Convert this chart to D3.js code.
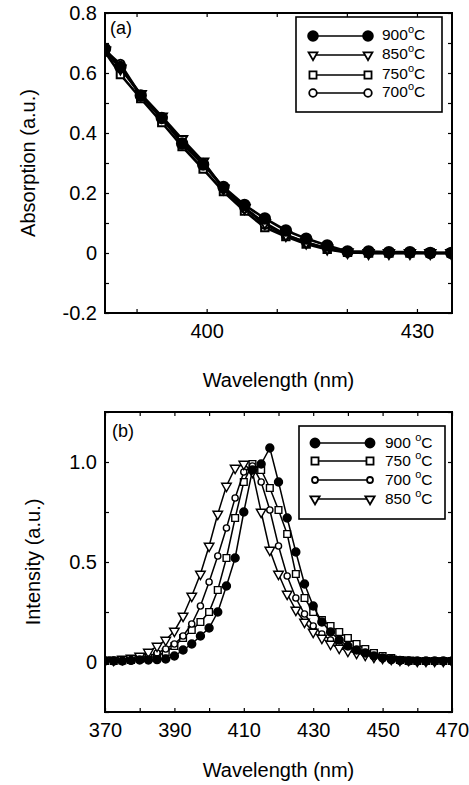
<!DOCTYPE html>
<html>
<head>
<meta charset="utf-8">
<script src="https://cdn.jsdelivr.net/npm/d3@7"></script>
<style>
  body { margin: 0; background: #fff; }
  svg text { font-family: "Liberation Sans", Arial, sans-serif; fill: #000; }
</style>
</head>
<body>
<svg id="chart" width="469" height="785"></svg>
<script>
// ---- panel (a): absorption ----
const absWave = [385.5, 387.7, 390.6, 393.6, 396.5, 399.5, 402.4, 405.4, 408.3, 411.3, 414.2, 417.2, 420.1, 423.1, 426.0, 429.0, 431.9, 434.9];
const abs900 = [0.680, 0.620, 0.525, 0.450, 0.365, 0.295, 0.220, 0.160, 0.115, 0.075, 0.048, 0.025, 0.005, 0.005, 0.003, 0.003, 0.000, 0.000];
const abs850 = [0.675, 0.615, 0.530, 0.455, 0.380, 0.305, 0.215, 0.150, 0.100, 0.060, 0.035, 0.015, 0.003, 0.000, 0.000, 0.000, 0.000, 0.000];
const abs750 = [0.670, 0.595, 0.515, 0.435, 0.355, 0.280, 0.205, 0.140, 0.085, 0.055, 0.030, 0.012, 0.002, 0.000, 0.000, 0.000, 0.000, 0.000];
const abs700 = [0.675, 0.630, 0.525, 0.450, 0.370, 0.300, 0.215, 0.150, 0.095, 0.060, 0.035, 0.015, 0.003, 0.000, 0.000, 0.000, 0.000, 0.000];
const absXTicks = [390, 400, 410, 420, 430];
const absXLabels = ["", "400", "", "", "430"];
const absYTicks = [-0.2, -0.1, 0, 0.1, 0.2, 0.3, 0.4, 0.5, 0.6, 0.7, 0.8];
const absYLabels = ["-0.2", "", "0", "", "0.2", "", "0.4", "", "0.6", "", "0.8"];
const absLegend = ["900", "850", "750", "700"];

// ---- panel (b): photoluminescence ----
const plWave = [370, 372.5, 375, 377.5, 380, 382.5, 385, 387.5, 390, 392.5, 395, 397.5, 400, 402.5, 405, 407.5, 410, 412.5, 415, 417.5,
  420, 422.5, 425, 427.5, 430, 432.5, 435, 437.5, 440, 442.5, 445, 447.5, 450, 452.5, 455, 457.5, 460, 462.5, 465, 467.5, 470];
const pl900 = [0.005, 0.005, 0.005, 0.008, 0.01, 0.01, 0.012, 0.015, 0.03, 0.06, 0.09, 0.13, 0.17, 0.25, 0.38, 0.52, 0.75, 0.96, 0.99, 1.07,
  0.90, 0.72, 0.55, 0.39, 0.28, 0.2, 0.15, 0.11, 0.08, 0.06, 0.045, 0.03, 0.02, 0.012, 0.008, 0.005, 0.005, 0.005, 0.005, 0.005, 0.005];
const pl750 = [0.005, 0.005, 0.008, 0.01, 0.015, 0.02, 0.03, 0.05, 0.08, 0.12, 0.16, 0.2, 0.25, 0.36, 0.52, 0.72, 0.90, 0.99, 0.96, 0.87,
  0.76, 0.64, 0.44, 0.32, 0.25, 0.21, 0.18, 0.15, 0.12, 0.09, 0.065, 0.045, 0.03, 0.02, 0.01, 0.005, 0.005, 0.005, 0.005, 0.005, 0.005];
const pl700 = [0.005, 0.008, 0.01, 0.015, 0.02, 0.03, 0.045, 0.065, 0.09, 0.13, 0.19, 0.28, 0.40, 0.53, 0.67, 0.82, 0.95, 0.98, 0.90, 0.76,
  0.58, 0.43, 0.32, 0.24, 0.18, 0.14, 0.11, 0.085, 0.065, 0.05, 0.04, 0.03, 0.02, 0.015, 0.01, 0.008, 0.005, 0.005, 0.005, 0.005, 0.005];
const pl850 = [0.01, 0.01, 0.015, 0.02, 0.03, 0.05, 0.08, 0.11, 0.155, 0.23, 0.33, 0.44, 0.58, 0.74, 0.88, 0.97, 0.99, 0.95, 0.75, 0.56,
  0.44, 0.34, 0.26, 0.2, 0.15, 0.12, 0.09, 0.07, 0.055, 0.045, 0.035, 0.025, 0.02, 0.015, 0.01, 0.01, 0.005, 0.005, 0.005, 0.005, 0.005];
const plXTicks = [370, 380, 390, 400, 410, 420, 430, 440, 450, 460, 470];
const plXLabels = ["370", "", "390", "", "410", "", "430", "", "450", "", "470"];
const plYTicks = [-0.25, 0, 0.25, 0.5, 0.75, 1.0, 1.25];
const plYLabels = ["", "0", "", "0.5", "", "1.0", ""];
const plLegend = ["900", "750", "700", "850"];

const svg = d3.select("#chart");
const left = 105, right = 452;

// marker shapes
function marker(sel, type, size, sw) {
  const sym = { dot: d3.symbolCircle, ring: d3.symbolCircle, square: d3.symbolSquare, tri: d3.symbolTriangle }[type];
  sel.attr("d", d3.symbol().type(sym).size(size))
    .attr("fill", type == "dot" ? "#000" : "#fff")
    .attr("stroke", "#000")
    .attr("stroke-width", sw);
}

function drawPanel(p) {
  const x = d3.scaleLinear().domain(p.xDomain).range([left, right]);
  const y = d3.scaleLinear().domain(p.yDomain).range([p.bottom, p.top]);
  const g = svg.append("g");

  g.append("clipPath").attr("id", p.id + "clip")
    .append("rect").attr("x", left).attr("y", p.top).attr("width", right - left).attr("height", p.bottom - p.top);
  const plot = g.append("g").attr("clip-path", `url(#${p.id}clip)`);

  const line = d3.line().x(d => x(d[0])).y(d => y(d[1]));
  p.series.forEach(s => {
    const pts = s.values.map((v, i) => [p.wave[i], v]);
    plot.append("path").datum(pts).attr("d", line)
      .attr("fill", "none").attr("stroke", "#000").attr("stroke-width", p.lineWidth);
    plot.selectAll(null).data(pts).join("path")
      .attr("transform", d => `translate(${x(d[0])},${y(d[1])})` + (s.marker == "tri" ? " rotate(180)" : ""))
      .call(marker, s.marker, p.sizes[s.marker], p.markerStroke);
  });

  // axes, ticks pointing in, mirrored on top/right
  g.append("g").attr("transform", `translate(0,${p.bottom})`)
    .call(d3.axisBottom(x).tickValues(p.xTicks).tickSizeInner(-4).tickSizeOuter(0).tickPadding(11)
      .tickFormat((d, i) => p.xLabels[i]));
  g.append("g").attr("transform", `translate(0,${p.top})`)
    .call(d3.axisTop(x).tickValues(p.xTicks).tickSizeInner(-4).tickSizeOuter(0).tickFormat(""));
  g.append("g").attr("transform", `translate(${left},0)`)
    .call(d3.axisLeft(y).tickValues(p.yTicks).tickSizeInner(-4).tickSizeOuter(0).tickPadding(8)
      .tickFormat((d, i) => p.yLabels[i]));
  g.append("g").attr("transform", `translate(${right},0)`)
    .call(d3.axisRight(y).tickValues(p.yTicks).tickSizeInner(-4).tickSizeOuter(0).tickFormat(""));
  g.selectAll(".domain").remove();
  g.selectAll(".tick line").attr("stroke", "#000").attr("stroke-width", 1.2);
  g.selectAll(".tick text").style("font-size", "20px").attr("fill", "#000");

  g.append("rect").attr("x", left).attr("y", p.top).attr("width", right - left).attr("height", p.bottom - p.top)
    .attr("fill", "none").attr("stroke", "#000").attr("stroke-width", 2);

  // panel tag
  g.append("text").attr("x", p.tag.x).attr("y", p.tag.y).style("font-size", "18px").text(p.tag.text);

  // axis titles
  g.append("text").attr("x", (left + right) / 2).attr("y", p.xTitleY).attr("text-anchor", "middle")
    .style("font-size", "20px").text("Wavelength (nm)");
  g.append("text").attr("transform", `translate(${p.yTitleX},${(p.top + p.bottom) / 2}) rotate(-90)`)
    .attr("text-anchor", "middle").style("font-size", "20px").text(p.yTitle);

  // legend
  const L = p.legend;
  g.append("rect").attr("x", L.x).attr("y", L.y).attr("width", L.w).attr("height", L.h)
    .attr("fill", "#fff").attr("stroke", "#000").attr("stroke-width", 1.6);
  L.items.forEach((it, i) => {
    const s = p.series.find(d => d.name == it);
    const yy = L.rowY[i];
    g.append("line").attr("x1", L.x1).attr("x2", L.x2).attr("y1", yy).attr("y2", yy)
      .attr("stroke", "#000").attr("stroke-width", 1.5);
    [L.x1, L.x2].forEach(xx => {
      g.append("path")
        .attr("transform", `translate(${xx},${yy})` + (s.marker == "tri" ? " rotate(180)" : ""))
        .call(marker, s.marker, L.sizes[s.marker], 1.8);
    });
    const t = g.append("text").attr("x", L.tx).attr("y", yy + L.dy).style("font-size", "15.5px");
    t.append("tspan").text(it + L.gap);
    t.append("tspan").attr("dy", -7).style("font-size", "11px").text("o");
    t.append("tspan").attr("dy", 7).text("C");
  });
}

drawPanel({
  id: "a", top: 13, bottom: 313,
  xDomain: [385.5, 435], yDomain: [-0.2, 0.8],
  wave: absWave,
  series: [
    { name: "750", values: abs750, marker: "square" },
    { name: "700", values: abs700, marker: "ring" },
    { name: "850", values: abs850, marker: "tri" },
    { name: "900", values: abs900, marker: "dot" }
  ],
  sizes: { dot: 85, ring: 55, square: 55, tri: 45 },
  lineWidth: 2.6, markerStroke: 2,
  xTicks: absXTicks, xLabels: absXLabels, yTicks: absYTicks, yLabels: absYLabels,
  tag: { x: 110, y: 34, text: "(a)" },
  xTitleY: 387, yTitleX: 35, yTitle: "Absorption (a.u.)",
  legend: { x: 296, y: 17, w: 146, h: 95, rowY: [36, 55, 75, 93], x1: 313, x2: 368, tx: 382, dy: 3.5, gap: "",
    items: absLegend, sizes: { dot: 75, ring: 45, square: 50, tri: 34 } }
});

drawPanel({
  id: "b", top: 412, bottom: 712,
  xDomain: [370, 470], yDomain: [-0.25, 1.25],
  wave: plWave,
  series: [
    { name: "750", values: pl750, marker: "square" },
    { name: "700", values: pl700, marker: "ring" },
    { name: "850", values: pl850, marker: "tri" },
    { name: "900", values: pl900, marker: "dot" }
  ],
  sizes: { dot: 50, ring: 30, square: 45, tri: 40 },
  lineWidth: 1.5, markerStroke: 1.4,
  xTicks: plXTicks, xLabels: plXLabels, yTicks: plYTicks, yLabels: plYLabels,
  tag: { x: 112, y: 437, text: "(b)" },
  xTitleY: 777, yTitleX: 40, yTitle: "Intensity (a.u.)",
  legend: { x: 299, y: 426, w: 146, h: 93, rowY: [443, 461, 480, 499], x1: 315, x2: 370, tx: 385, dy: 5, gap: " ",
    items: plLegend, sizes: { dot: 65, ring: 28, square: 50, tri: 38 } }
});
</script>
</body>
</html>
